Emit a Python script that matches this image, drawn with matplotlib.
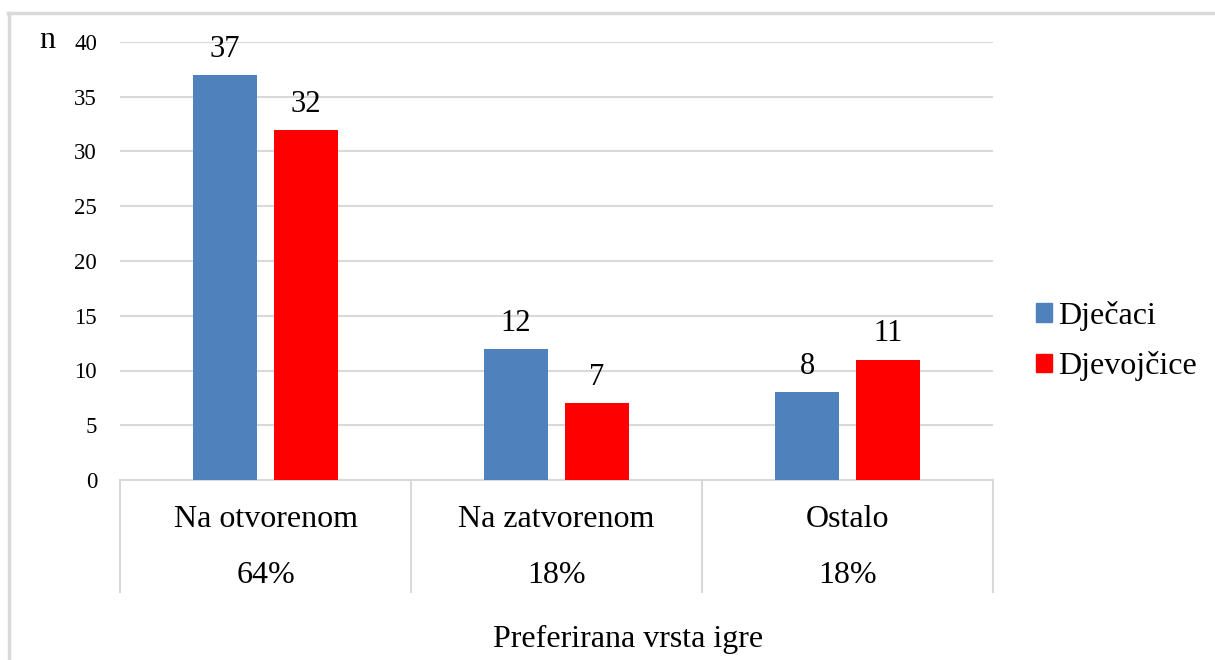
import numpy as np
import matplotlib.pyplot as plt
from matplotlib.patches import Patch
from matplotlib.lines import Line2D

plt.rcParams['font.family'] = ['Liberation Serif', 'DejaVu Serif']

# data
categories = ['Na otvorenom', 'Na zatvorenom', 'Ostalo']
percentages = ['64%', '18%', '18%']
djecaci = [37, 12, 8]
djevojcice = [32, 7, 11]
series_names = ['Dječaci', 'Djevojčice']
yticks = [0, 5, 10, 15, 20, 25, 30, 35, 40]

W, H = 1215, 660
fig = plt.figure(figsize=(W / 100, H / 100), dpi=100)
ax = fig.add_axes([120 / W, 1 - 480 / H, (993 - 120) / W, (480 - 42) / H])

x = np.arange(len(categories))
bw = 0.223
off = 0.139
b1 = ax.bar(x - off, djecaci, bw, color='#4F81BD', zorder=3)
b2 = ax.bar(x + off, djevojcice, bw, color='#FF0000', zorder=3)

# value labels above the bars
for bars, vals in ((b1, djecaci), (b2, djevojcice)):
    for rect, v in zip(bars, vals):
        ax.annotate(str(v), (rect.get_x() + rect.get_width() / 2, v),
                    xytext=(0, 13), textcoords='offset points',
                    ha='center', va='baseline', fontsize=22)

ax.set_xlim(-0.5, len(categories) - 0.5)
ax.set_ylim(0, 40)
ax.set_yticks(yticks)
ax.tick_params(axis='y', length=0, pad=16.5, labelsize=16.5)
ax.set_xticks([])
ax.grid(axis='y', color='#D9D9D9', linewidth=1.5, zorder=0)
for s in ('top', 'right', 'left'):
    ax.spines[s].set_visible(False)
ax.spines['bottom'].set_color('#D9D9D9')
ax.spines['bottom'].set_linewidth(1.5)

# multi-level category axis
trans = ax.get_xaxis_transform()
px = lambda ypix: -(ypix - 480) / 438
for b in np.arange(len(categories) + 1) - 0.5:
    ax.add_line(Line2D([b, b], [0, px(592)], transform=trans,
                       color='#D9D9D9', linewidth=1.5, clip_on=False))
for i, (c, p) in enumerate(zip(categories, percentages)):
    ax.text(i, px(527), c, transform=trans, ha='center',
            va='baseline', fontsize=23)
    ax.text(i, px(583), p, transform=trans, ha='center',
            va='baseline', fontsize=23)

fig.text(628 / W, 1 - 647 / H, 'Preferirana vrsta igre', ha='center',
         va='baseline', fontsize=23)
fig.text(47 / W, 1 - 48 / H, 'n', ha='center', va='baseline', fontsize=23)

handles = [Patch(color='#4F81BD'), Patch(color='#FF0000')]
fig.legend(handles, series_names, loc='center left',
           bbox_to_anchor=(1036 / W, 1 - 341 / H), frameon=False,
           fontsize=23, handlelength=0.5, handleheight=0.5,
           handletextpad=0.19, labelspacing=0.64, borderaxespad=0,
           borderpad=0)

# outer chart border
fig.add_artist(Line2D([8 / W, 1.0], [1 - 13 / H] * 2, color='#D9D9D9', lw=2.5))
fig.add_artist(Line2D([9 / W] * 2, [1 - 13 / H, 0], color='#D9D9D9', lw=2.5))

fig.savefig('out.png', dpi=100)
